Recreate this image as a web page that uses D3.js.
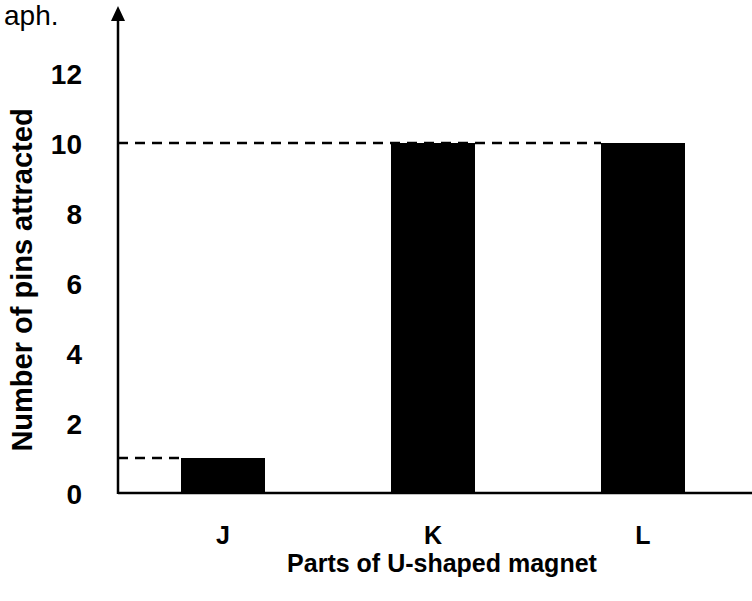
<!DOCTYPE html>
<html>
<head>
<meta charset="utf-8">
<script src="https://cdn.jsdelivr.net/npm/d3@7"></script>
<style>
  body { margin: 0; background: #fff; }
  svg { display: block; }
  text { font-family: "Liberation Sans", Arial, sans-serif; fill: #000; }
</style>
</head>
<body>
<svg width="752" height="601"></svg>
<script>
// data
var parts = ["J", "K", "L"];
var pins = [1, 10, 10];
var yTicks = [0, 2, 4, 6, 8, 10, 12];

var svg = d3.select("svg"),
    width = +svg.attr("width"),
    height = +svg.attr("height");

var axisX = 118, baseY = 493;

var x = d3.scaleBand()
    .domain(parts)
    .range([axisX, axisX + 630])
    .paddingInner(0.6)
    .paddingOuter(0.3);

var y = d3.scaleLinear()
    .domain([0, 12])
    .range([baseY, 73]);

// heading fragment at top left (the rest is cut off in the scan)
svg.append("text")
    .attr("x", 4).attr("y", 25)
    .style("font-size", "28px")
    .text("aph.");

// dashed guide lines from the axis to each bar top
var maxVal = d3.max(pins);
var lastMax = parts[pins.lastIndexOf(maxVal)];
var guides = [
    { v: 1, to: x("J") },
    { v: maxVal, to: x(lastMax) }
];
svg.append("g").selectAll("line")
    .data(guides)
    .enter().append("line")
    .attr("x1", axisX).attr("x2", function (d) { return d.to; })
    .attr("y1", function (d) { return y(d.v); })
    .attr("y2", function (d) { return y(d.v); })
    .attr("stroke", "#000")
    .attr("stroke-width", 2.5)
    .attr("stroke-dasharray", "10,7");

// bars
svg.append("g").selectAll("rect")
    .data(parts)
    .enter().append("rect")
    .attr("x", function (d) { return x(d); })
    .attr("width", x.bandwidth())
    .attr("y", function (d, i) { return y(pins[i]); })
    .attr("height", function (d, i) { return baseY - y(pins[i]); })
    .attr("fill", "#000");

// y axis labels
var yAxis = svg.append("g")
    .attr("transform", "translate(" + axisX + ",0)")
    .call(d3.axisLeft(y).tickValues(yTicks).tickSize(0).tickPadding(36));
yAxis.select(".domain").remove();
yAxis.selectAll("text")
    .style("font-size", "28px")
    .style("font-weight", "bold")
    .style("font-family", "Liberation Sans, Arial, sans-serif")
    .attr("dy", "0.36em");

// x axis labels
var xAxis = svg.append("g")
    .attr("transform", "translate(0," + baseY + ")")
    .call(d3.axisBottom(x).tickSize(0).tickPadding(33));
xAxis.select(".domain").remove();
xAxis.selectAll("text")
    .style("font-size", "25px")
    .style("font-weight", "bold")
    .style("font-family", "Liberation Sans, Arial, sans-serif");

// axis lines
svg.append("line")
    .attr("x1", axisX).attr("x2", width)
    .attr("y1", baseY).attr("y2", baseY)
    .attr("stroke", "#000").attr("stroke-width", 2.5);
svg.append("line")
    .attr("x1", axisX).attr("x2", axisX)
    .attr("y1", baseY + 1).attr("y2", 16)
    .attr("stroke", "#000").attr("stroke-width", 2.5);
svg.append("path")
    .attr("d", "M" + axisX + ",6L" + (axisX - 7) + ",21L" + (axisX + 7) + ",21Z")
    .attr("fill", "#000");

// axis titles
svg.append("text")
    .attr("transform", "translate(32,280) rotate(-90)")
    .attr("text-anchor", "middle")
    .style("font-size", "29px")
    .style("font-weight", "bold")
    .text("Number of pins attracted");

svg.append("text")
    .attr("x", 442).attr("y", 572)
    .attr("text-anchor", "middle")
    .style("font-size", "25px")
    .style("font-weight", "bold")
    .text("Parts of U-shaped magnet");
</script>
</body>
</html>
